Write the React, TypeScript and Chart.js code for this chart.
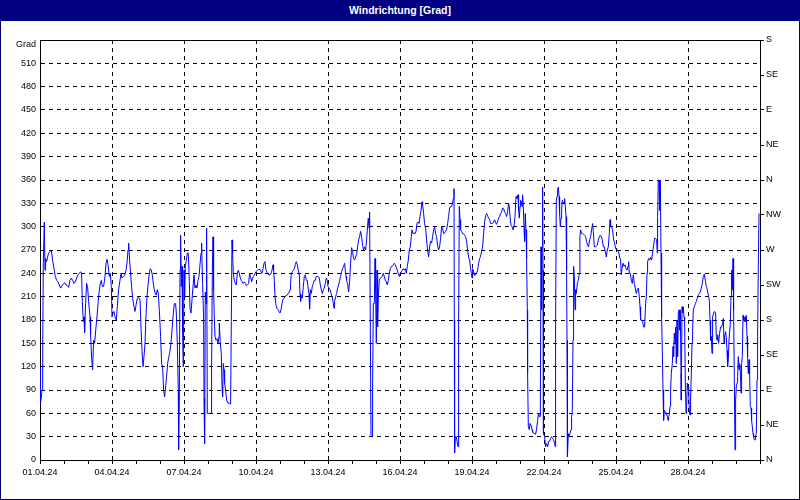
import React, { useEffect, useRef } from 'react';
import { Chart, registerables } from 'chart.js';

Chart.register(...registerables);

const chartTitle = 'Windrichtung [Grad]';
const axisTitle = 'Grad';
const dateLabels = ['01.04.24', '04.04.24', '07.04.24', '10.04.24', '13.04.24', '16.04.24', '19.04.24', '22.04.24', '25.04.24', '28.04.24'];
const compassLabels = ['N', 'NE', 'E', 'SE', 'S', 'SW', 'W', 'NW', 'N', 'NE', 'E', 'SE', 'S'];

// [hour since 01.04.24 00:00, direction in degrees]
const block1: [number, number][] = [
  [0,118],[0.3,73],[1,77],[2,90],[2.7,146],[3.3,253],[4.3,306],[5,244],[5.6,259],[6.6,255],[7.6,261],[8.6,266],[10,268],[11.3,270],[12.6,257],[14,246],[15.3,236],[16.6,231],[18,229],[19.3,225],[20.6,221],[22,224],[23.3,226],[24.6,228],[26,225],[27.3,224],[28.6,222],[30,231],[31.3,234],[32.6,231],[34,227],[35.3,229],[36.6,234],[38,238],[39.3,240],[40.6,242],[41.6,240],[42.3,204],[43.3,178],[44,184],[44.6,164],[45.6,201],[46.6,227],[47.6,223],[48.6,204],[50,184],[50.6,161],[51.6,131],[52.6,116],[53.6,154],[54.6,150],[56,171],[57.3,189],[58.6,210],[60,225],[61.3,231],[62.3,223],[63.6,223],[65,236],[66,253],[67,258],[68,251],[69.3,236],[70.3,240],[71.3,223],[72,184],[73,189],[74,191],[75,184],[76.3,180],[77.3,197],[78.6,219],[80,231],[81,240],[82,234],[83.3,236],[84.6,237],[86,244],[87,253],[88,270],[88.6,279],[89.6,257],[90.6,240],[91.6,223],[92.6,208],[94,197],[95,191],[96,199],[97.3,208],[98.6,209],[100,206],[101,171],[102,141],[103,120],[104,133],[105,150],[106,186],[107,210],[108,225],[109.3,240],[110.3,246],[111.3,244],[112.3,238],[113.3,227],[114.3,219],[115.3,214],[116.3,212],[117.3,219],[118.3,214],[119.3,193],[120.6,159],[121.6,124],[122.6,120],[123.6,90],[124.6,81],[125.6,94],[126.6,107],[127.6,124],[128.6,131],[129.6,137],[131,150],[132,167],[133,184],[134.3,201],[135.6,201],[136.3,189],[137.3,150],[138.3,90],[138.6,13],[139.3,81],[140,244],[140.6,289],[141.3,223],[142,249],[142.6,163],[143.3,120],[144,244],[144.6,210],[145.3,249],[146.3,257],[147.3,266],[148.3,266],[149.3,231],[150,195],[151,189],[152,206],[153,223],[154,238],[155,221],[156,225],[157,221],[158,231],[159,236],[160,251],[161,266],[161.6,279],[162.6,227],[163.6,184],[164,79],[164.6,21],[165.3,216],[166,201],[166.6,298],[167.3,60],[171,60],[171.6,120],[172.3,240],[173,287],[173.6,219],[174.3,184],[175,159],[176,154],[177,156],[178,150],[179,159]
];

const block2: [number, number][] = [
  [179.3,176],[180.3,150],[181.3,137],[182,94],[182.6,81],[183.3,124],[184,116],[184.6,99],[185.6,90],[186.6,77],[188,73],[189.3,73],[190.6,72],[191.3,178],[192,283],[192.6,266],[193.3,240],[194.3,231],[195.3,227],[196.3,225],[197.3,240],[198.3,244],[199.3,240],[200.3,234],[201.3,231],[202.3,229],[203.3,227],[204.3,229],[205.3,227],[206.3,224],[207.3,225],[208.6,227],[209.6,240],[210.6,236],[211.6,229],[212.6,234],[213.6,236],[214.6,238],[216,242],[217.3,244],[218.6,245],[220,245],[221,242],[222,240],[223,246],[224,253],[225,255],[226,244],[227.3,240],[228.6,238],[230,238],[231,240],[232,244],[233,251],[233.6,244],[234.3,231],[235,210],[236,199],[237,195],[238,193],[239,191],[240,189],[241,193],[242,201],[243,206],[244,208],[245,210],[246,211],[247,212],[248,214],[249,215],[250,219],[250.6,227],[251.3,240],[252.3,242],[253.3,244],[254.3,246],[255.3,251],[256.3,255],[257.3,251],[258.3,244],[259.3,238],[260,214],[260.6,204],[261.3,212],[262.3,208],[263.3,223],[264.3,236],[265.3,238],[266.3,231],[267.3,231],[268.3,219],[269,214],[269.6,194],[270.3,219],[271.3,214],[272.3,223],[273.3,227],[274.3,231],[275.3,231],[276.3,236],[277.3,236],[278.3,236],[279.3,234],[280.3,225],[281.3,219],[282.3,214],[283.3,219],[284.3,221],[285.3,227],[286.3,234],[287.3,231],[288,223],[289,221],[290,219],[291,214],[292,210],[293,204],[294,195],[294.6,204],[295.6,210],[296.6,214],[297.6,221],[298.6,225],[299.6,231],[300.6,236],[301.6,242],[302.6,246],[303.6,249],[304.6,253],[305.3,244],[306,236],[306.6,231],[307.6,227],[308.6,216],[309.6,229],[310.6,253],[311.6,273],[312.6,268],[313.6,259],[314.6,257],[315.6,261],[316.6,264],[317.6,274],[318.6,283],[319.6,287],[320.6,294],[321.6,287],[322.6,276],[323.6,270],[324.6,274],[325.6,270],[326.6,283],[327.6,302],[328.3,311],[329,298],[329.6,319],[330.3,176],[331,30],[332,30],[332.6,90],[333.3,201],[334.3,201],[335,259],[335.6,219],[336.3,150],[337,244],[337.6,171],[338.3,210],[339.3,231],[340.3,234],[341.3,235],[342.3,236],[343.3,240],[344.3,236],[345.3,231],[346.3,229],[347.3,225],[348.3,231],[349.3,240],[350.3,246],[351.3,249],[352.3,249],[353.3,251],[354.3,253],[355.3,251],[356.3,248],[357.3,244],[358.3,240],[359.3,236]
];

const block3: [number, number][] = [
  [360.3,240],[361.3,242],[362.3,244],[363.3,246],[364.3,244],[365.3,246],[366.3,240],[367.3,249],[368.3,257],[369.3,270],[370.3,274],[371.3,287],[372,296],[373,291],[374,292],[375,291],[376,294],[377,304],[378,306],[379,304],[380,313],[381,321],[382,332],[382.6,328],[383.6,317],[384.6,304],[385.6,298],[386.6,283],[387.6,270],[388.6,261],[389.6,274],[390.6,281],[391.6,279],[392.6,287],[393.6,296],[394.6,300],[395.6,291],[396.6,287],[397.6,276],[398.6,270],[399.6,274],[400.6,285],[401.6,300],[402.6,298],[403.6,291],[404.6,292],[405.6,294],[406.6,296],[407.6,304],[408.6,313],[409.6,324],[410.6,326],[411.6,326],[412.6,330],[413.3,336],[414,349],[414.3,180],[414.6,9],[415.3,30],[416.3,30],[417,24],[418,17],[418.6,171],[419.3,326],[420,309],[420.6,296],[421.6,294],[422.6,291],[423.6,291],[424.6,289],[425.6,287],[426.6,281],[427.6,270],[428.6,261],[429.6,257],[430.6,246],[431.3,240],[432,234],[432.6,246],[433.6,242],[434.6,237],[435.6,239],[436.6,240],[437.6,244],[438.6,253],[439.6,259],[440.6,262],[441.6,268],[442.6,274],[443.6,291],[444.6,306],[445.6,314],[446.6,317],[447.6,314],[448.6,311],[449.6,309],[450.6,304],[451.6,304],[452.6,304],[453.6,306],[454.6,309],[455.6,305],[456.6,303],[457.6,307],[458.6,311],[459.6,313],[460.6,317],[461.6,319],[462.6,324],[463.6,323],[464.6,319],[465.6,317],[466.6,313],[467.6,319],[468.6,330],[469.3,326],[470,313],[471,302],[472,300],[473,296],[474,300],[475,313],[476,339],[477,336],[478,341],[478.6,321],[479.3,311],[480,326],[480.6,334],[481.3,332],[482,326],[482.6,341],[483.3,326],[484,298],[484.6,281],[485.3,317],[486,296],[486.6,259],[487.3,193],[487.6,111],[488.3,43],[489.3,39],[490,47],[491,45],[492,39],[492.6,36],[493.6,34],[494.6,34],[495.6,33],[496.6,40],[497.6,51],[498.6,60],[499.3,56],[500.3,56],[501,274],[501.6,193],[502,274],[502.6,351],[503,244],[503.3,129],[503.6,34],[504.6,30],[505.6,17],[506.6,21],[507.6,17],[508.6,24],[509.6,24],[510.6,28],[511.6,30],[512.6,28],[513.6,26],[514.6,21],[515.3,17],[515.6,176],[516.3,334],[517,339],[517.6,347],[518.3,351],[519,339],[519.6,317],[520.3,300],[521,311],[521.6,321],[522.3,334],[523,332],[524,330],[524.6,336],[525.3,326],[526,313],[526.6,244],[527,154],[527.3,73],[527.6,4],[528.3,34],[529,30],[530,34],[531,39],[531.6,56],[532.3,64],[533,154],[533.6,249],[534.3,236],[535,193],[535.6,219],[536.3,214],[537.3,227],[538.3,231],[539.3,240]
];

const block4: [number, number][] = [
  [539.9,287],[540.6,296],[541.6,291],[542.6,291],[543.6,290],[544.6,289],[545.6,287],[546.6,281],[547.6,276],[548.6,274],[549.6,283],[550.6,287],[551.6,296],[552.6,304],[553.3,294],[554.3,274],[555.3,274],[556.3,275],[557.3,276],[558.3,283],[559.3,287],[560.3,289],[561.3,287],[562.3,283],[563.3,274],[564.3,274],[565.3,268],[566.3,261],[567.3,270],[568.3,274],[569.3,291],[570,309],[570.6,300],[571.6,300],[572.6,296],[573.6,283],[574.6,279],[575.6,272],[576.6,270],[577.6,270],[578.6,268],[579.6,261],[580.6,257],[581.3,238],[582,246],[583,253],[584,249],[585,251],[586,246],[587,244],[588,249],[588.6,255],[589.3,240],[590.3,240],[591.3,231],[592.3,227],[593.3,238],[594.3,227],[595.3,221],[596.3,214],[597.3,219],[598.3,221],[599.3,210],[600,197],[600.6,180],[601.6,180],[602.6,178],[603.6,171],[604.6,171],[605.6,201],[606.3,210],[607,240],[607.6,255],[608.6,259],[609.6,257],[610.6,261],[611.6,257],[612.6,266],[613.6,276],[614.6,285],[615.6,285],[616.6,283],[617.3,266],[617.6,313],[618.3,360],[619,360],[619.6,321],[620.3,360],[621,266],[621.6,184],[622.3,141],[623,90],[623.6,51],[624.3,64],[625.3,62],[626.3,60],[627.3,56],[628,51],[628.6,56],[629.3,58],[630,69],[630.6,90],[631.3,111],[632.3,124],[633,146],[633.6,133],[634.3,163],[635,150],[635.6,171],[636.3,124],[637,180],[637.6,133],[638.3,189],[639,193],[639.6,167],[640.3,193],[641,111],[641.3,77],[642,197],[642.6,189],[643.3,197],[644,184],[644.6,180],[645.3,99],[646,60],[646.6,69],[647.3,99],[648,90],[648.6,94],[649.3,64],[650,58],[650.6,81],[651.3,111],[652,150],[652.6,167],[653.3,193],[654.3,197],[655.3,201],[656.3,204],[657.3,208],[658.3,212],[659.3,214],[660.3,216],[661.3,221],[662.3,227],[663.3,236],[664.3,239],[665.3,231],[666.3,223],[667.3,219],[668.3,212],[669.3,206],[670,180],[670.6,154],[671.3,159],[672,137],[672.6,184],[673.6,189],[674.6,191],[675.6,189],[676.3,159],[677,154],[677.6,161],[678.6,150],[679.6,163],[680.6,171],[681.6,171],[682.6,176],[683.3,182],[684,150],[684.6,159],[685.6,165],[686.3,157],[687,141],[687.6,120],[688.3,129],[689,154],[690.3,176],[691,210],[691.6,244],[692.3,219],[693,259],[693.6,193],[694.3,107],[695,13],[695.6,77],[696.3,94],[697,99],[697.6,107],[698.3,133],[699,116],[699.6,124],[700.3,116],[701,86],[701.6,124],[702.3,133],[703,186],[703.6,180],[704.3,178],[705,184],[705.6,178],[706.3,186],[707,159],[707.6,133],[708.3,111],[709,129],[709.6,111],[710.3,69],[711,67],[711.6,51],[712.3,43],[713,34],[713.6,30],[714.3,26],[715,26],[715.6,30],[716.3,34],[717,103],[717.6,159],[718.3,249],[719,317],[719.6,317]
];

const NAVY = '#000080';
const CLEAR = 'rgba(0,0,0,0)';
const FONT_FAMILY = "'Liberation Sans', Arial, sans-serif";

export default function App() {
  const ref = useRef<HTMLCanvasElement>(null);

  useEffect(() => {
    if (!ref.current) return;
    const points = [...block1, ...block2, ...block3, ...block4].map(([x, y]) => ({ x, y }));
    const font = { family: FONT_FAMILY, size: 9 };

    const frame = {
      id: 'frame',
      afterDraw(chart: any) {
        const { ctx, chartArea } = chart;
        ctx.save();
        ctx.strokeStyle = '#000';
        ctx.lineWidth = 1;
        ctx.beginPath();
        ctx.moveTo(chartArea.left, chartArea.top + 0.5);
        ctx.lineTo(chartArea.right + 1, chartArea.top + 0.5);
        ctx.stroke();
        // unit label of the left axis, slightly below the top line
        ctx.fillStyle = '#000';
        ctx.font = `9px ${FONT_FAMILY}`;
        ctx.textAlign = 'right';
        ctx.textBaseline = 'middle';
        ctx.fillText(axisTitle, chartArea.left - 4, chartArea.top + 5);
        ctx.restore();
      },
    };

    const chart = new Chart(ref.current, {
      type: 'line',
      data: {
        datasets: [
          {
            data: points,
            borderColor: '#0000ff',
            borderWidth: 1,
            pointRadius: 0,
            tension: 0,
            fill: false,
            yAxisID: 'y',
          },
        ],
      },
      options: {
        animation: false,
        responsive: false,
        devicePixelRatio: 1,
        layout: { padding: { top: 40, left: 0, right: 0, bottom: 0 } },
        plugins: {
          legend: { display: false },
          tooltip: { enabled: false },
          title: { display: false },
        },
        scales: {
          x: {
            type: 'linear',
            min: 0,
            max: 720,
            afterFit: (s: any) => { s.height = 40; },
            ticks: {
              stepSize: 24,
              autoSkip: false,
              maxRotation: 0,
              color: '#000',
              font,
              padding: 3,
              callback: (v: any) => {
                const n = Number(v);
                return n % 72 === 0 ? (dateLabels[n / 72] ?? '') : '';
              },
            },
            grid: {
              color: (c: any) => {
                const v = c.tick ? c.tick.value : 0;
                return v % 72 === 0 && v > 0 && v < 720 ? '#000' : CLEAR;
              },
              tickColor: '#000',
              tickLength: 4,
              drawTicks: true,
              lineWidth: 1,
            },
            border: { display: true, color: '#000', width: 1, dash: [4, 4] },
          },
          y: {
            type: 'linear',
            position: 'left',
            min: 0,
            max: 540,
            afterFit: (s: any) => { s.width = 40; },
            ticks: {
              stepSize: 30,
              color: '#000',
              font,
              padding: 4,
              callback: (v: any) => (Number(v) === 540 ? '' : String(v)),
            },
            grid: {
              color: (c: any) => {
                const v = c.tick ? c.tick.value : 0;
                return v === 0 || v === 540 ? CLEAR : '#000';
              },
              drawTicks: false,
              lineWidth: 1,
            },
            border: { display: true, color: '#000', width: 1, dash: [4, 4] },
          },
          y2: {
            type: 'linear',
            position: 'right',
            min: 0,
            max: 540,
            afterFit: (s: any) => { s.width = 40; },
            ticks: {
              stepSize: 45,
              color: '#000',
              font,
              padding: 2,
              callback: (_v: any, i: number) => compassLabels[i] ?? '',
            },
            grid: {
              drawOnChartArea: false,
              drawTicks: true,
              tickLength: 4,
              tickColor: '#000',
              color: '#000',
            },
            border: { display: true, color: '#000', width: 1 },
          },
        },
      },
      plugins: [frame],
    } as any);

    return () => chart.destroy();
  }, []);

  return (
    <div style={{ position: 'fixed', left: 0, top: 0, width: 800, height: 500, background: '#fff' }}>
      <canvas ref={ref} width={800} height={500} style={{ position: 'absolute', left: 0, top: 0, width: 800, height: 500 }} />
      <div
        style={{
          position: 'absolute',
          left: 0,
          top: 0,
          width: 800,
          height: 21,
          background: NAVY,
          color: '#fff',
          fontFamily: FONT_FAMILY,
          fontWeight: 'bold',
          fontSize: 10.5,
          lineHeight: '20px',
          textAlign: 'center',
        }}
      >
        {chartTitle}
      </div>
      <div
        style={{
          position: 'absolute',
          left: 0,
          top: 0,
          width: 800,
          height: 500,
          boxSizing: 'border-box',
          border: `1px solid ${NAVY}`,
          pointerEvents: 'none',
        }}
      />
    </div>
  );
}
